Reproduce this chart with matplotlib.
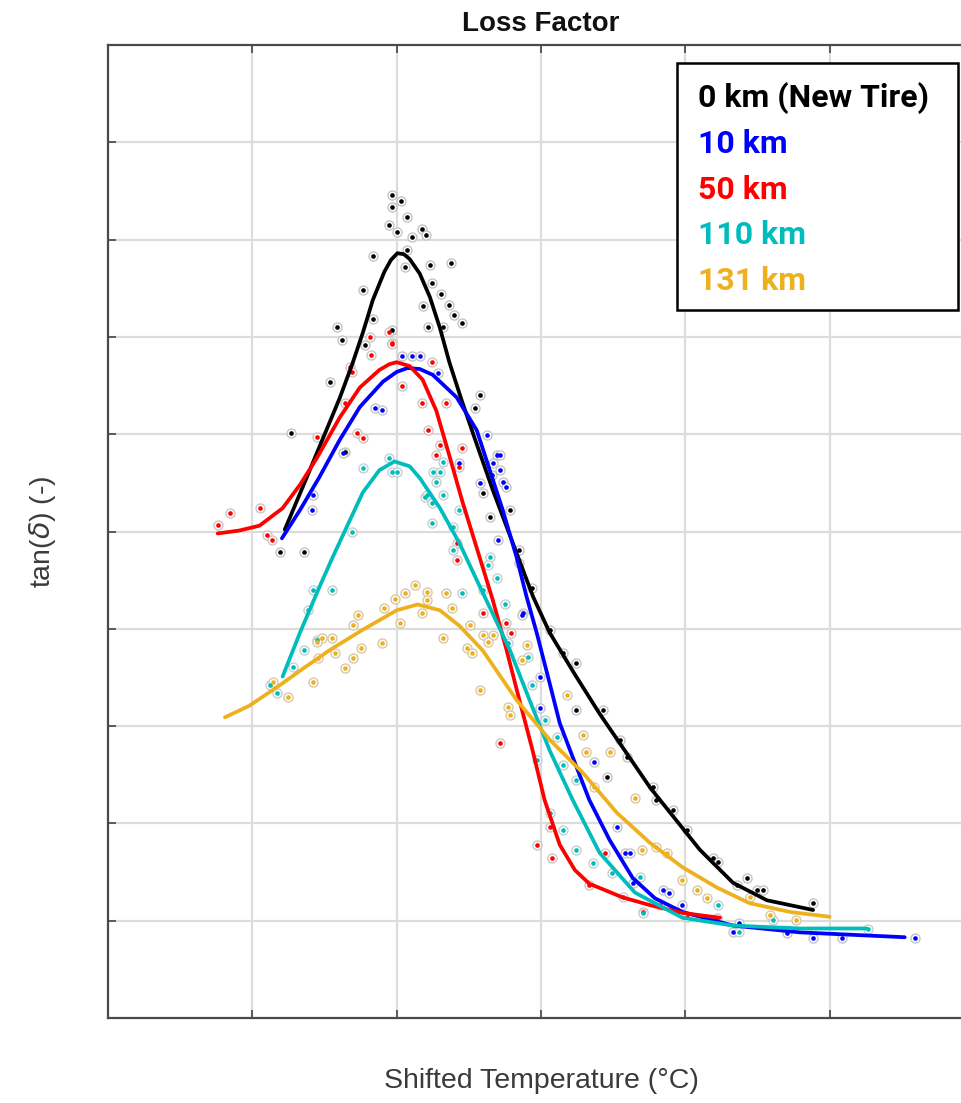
import matplotlib
matplotlib.use("Agg")
import matplotlib.pyplot as plt
from matplotlib.patches import Rectangle

# ---- fitted master curves (shifted temperature in degC, tan delta) ----
fit0_x = [-15.5, -13.0, -10.7, -7.9, -6.2, -4.7, -3.3, -1.7, -0.8, 0.1, 1.0, 1.8, 3.2, 4.6, 6.0,
          7.3, 9.0, 10.8, 13.3, 16.1, 18.9, 21.2, 24.7, 28.1, 35.1, 42.0, 46.6, 51.3, 57.7]
fit0_y = [0.502, 0.546, 0.587, 0.637, 0.671, 0.704, 0.738, 0.767, 0.779, 0.786, 0.785, 0.780,
          0.765, 0.741, 0.709, 0.674, 0.635, 0.596, 0.543, 0.488, 0.433, 0.396, 0.353, 0.313,
          0.237, 0.173, 0.139, 0.121, 0.111]

fit10_x = [-15.9, -13.4, -10.7, -7.9, -5.1, -1.9, 0.0, 1.5, 3.2, 5.0, 8.3, 11.1, 12.9, 14.7,
           16.6, 18.0, 19.4, 21.2, 22.6, 24.4, 26.7, 29.5, 32.7, 35.8, 39.6, 46.6, 55.9, 70.4]
fit10_y = [0.493, 0.522, 0.556, 0.594, 0.628, 0.654, 0.664, 0.668, 0.667, 0.661, 0.638, 0.604,
           0.563, 0.522, 0.474, 0.433, 0.396, 0.344, 0.303, 0.268, 0.224, 0.183, 0.144, 0.123,
           0.109, 0.095, 0.088, 0.083]

fit50_x = [-24.8, -21.8, -19.0, -15.8, -13.4, -11.1, -7.9, -5.1, -2.4, -1.0, 0.0, 1.8, 3.6, 5.5,
           7.3, 9.1, 11.1, 13.3, 15.2, 17.0, 18.8, 20.5, 22.6, 24.7, 26.7, 31.3, 35.1, 39.6, 44.8]
fit50_y = [0.498, 0.501, 0.506, 0.524, 0.548, 0.575, 0.617, 0.648, 0.666, 0.672, 0.674, 0.670,
           0.656, 0.624, 0.578, 0.531, 0.483, 0.430, 0.379, 0.327, 0.276, 0.224, 0.178, 0.152,
           0.138, 0.124, 0.116, 0.108, 0.103]

fit110_x = [-15.8, -13.4, -10.7, -8.9, -6.9, -4.7, -2.4, -0.3, 1.8, 3.2, 6.0, 8.7, 11.1, 12.9,
            15.7, 18.4, 21.2, 24.4, 28.1, 33.0, 39.6, 46.6, 55.9, 65.1]
fit110_y = [0.351, 0.396, 0.443, 0.473, 0.505, 0.540, 0.563, 0.572, 0.567, 0.555, 0.524, 0.488,
            0.450, 0.422, 0.378, 0.327, 0.275, 0.224, 0.170, 0.129, 0.103, 0.095, 0.092, 0.092]

fit131_x = [-23.8, -20.4, -16.2, -12.8, -9.3, -4.7, 0.0, 2.9, 6.0, 8.7, 11.9, 14.3, 16.6, 21.2,
            25.8, 30.5, 35.1, 39.6, 44.4, 48.9, 54.5, 60.0]
fit131_y = [0.309, 0.321, 0.342, 0.360, 0.378, 0.399, 0.419, 0.425, 0.419, 0.403, 0.378, 0.352,
            0.327, 0.286, 0.252, 0.211, 0.180, 0.155, 0.134, 0.118, 0.109, 0.104]

# ---- measured points ----
meas0_x = [-0.7, -0.6, 0.6, 1.4, -1.0, 0.1, 2.1, 3.5, 4.0, -3.3, 1.5, 1.1, 4.6, 7.5, 4.9, -4.7,
           6.1, 3.6, 7.2, 8.0, 9.1, -3.3, -8.3, 4.3, -0.6, 6.4, -7.6, -4.4, 11.5, 10.8, -14.6,
           -9.3, -16.2, -12.8, -7.2, 11.9, 12.9, 15.7, 17.0, 18.7, 21.2, 23.0, 24.9, 24.9, 28.6,
           30.9, 31.9, 29.1, 35.5, 36.0, 38.3, 40.2, 43.8, 47.1, 48.5, 49.9, 50.7, 57.7, 44.5]
meas0_y = [0.846, 0.834, 0.840, 0.823, 0.815, 0.808, 0.803, 0.811, 0.805, 0.783, 0.789, 0.772,
           0.774, 0.776, 0.755, 0.748, 0.744, 0.732, 0.733, 0.722, 0.714, 0.718, 0.710, 0.710,
           0.707, 0.710, 0.697, 0.692, 0.640, 0.627, 0.601, 0.654, 0.479, 0.479, 0.582, 0.540,
           0.515, 0.522, 0.481, 0.442, 0.399, 0.375, 0.365, 0.317, 0.317, 0.286, 0.268, 0.248,
           0.237, 0.224, 0.214, 0.193, 0.164, 0.137, 0.144, 0.132, 0.132, 0.118, 0.160]

meas10_x = [0.7, 2.1, 3.2, 5.7, 8.7, 12.5, 13.9, 13.3, 14.3, 14.7, 11.5, 15.2, 14.0, 17.0, 17.5,
            -11.6, -11.8, -3.0, -2.1, -7.5, 17.3, 19.8, 19.8, 27.4, 30.5, 31.6, 32.7, 36.9, 37.8,
            39.6, 46.6, 47.5, 54.1, 57.7, 61.7, 71.8, 32.3, 14.3, 13.2]
meas10_y = [0.680, 0.680, 0.680, 0.663, 0.570, 0.599, 0.579, 0.570, 0.563, 0.551, 0.550, 0.546,
            0.491, 0.468, 0.416, 0.537, 0.522, 0.627, 0.625, 0.581, 0.414, 0.350, 0.319, 0.263,
            0.196, 0.170, 0.139, 0.132, 0.128, 0.116, 0.088, 0.098, 0.087, 0.082, 0.082, 0.082,
            0.170, 0.579, 0.558]

meas50_x = [-24.8, -23.1, -19.0, -17.9, -17.3, -11.1, -7.2, -6.5, -3.7, -3.5, -0.7, -5.5, -4.7,
            -1.0, -0.6, -6.2, 0.7, 3.5, 4.9, 4.3, 6.0, 5.5, 9.1, 8.7, 8.3, 8.3, 6.9, 11.9, 15.2,
            15.9, 14.3, 21.2, 21.5, 19.5, 26.7, 28.8, 31.3, 34.1, 36.5, 40.2, 44.4]
meas50_y = [0.507, 0.519, 0.524, 0.496, 0.491, 0.597, 0.632, 0.669, 0.700, 0.681, 0.694, 0.601,
            0.596, 0.705, 0.693, 0.664, 0.650, 0.632, 0.674, 0.604, 0.589, 0.579, 0.586, 0.566,
            0.488, 0.471, 0.632, 0.416, 0.406, 0.396, 0.283, 0.196, 0.164, 0.178, 0.137, 0.170,
            0.124, 0.109, 0.116, 0.104, 0.103]

meas110_x = [-17.6, -16.6, -14.4, -12.8, -11.1, -11.6, -12.3, -8.9, -6.2, -4.7, -1.0, -0.6, 0.1,
             5.0, 6.0, 5.5, 3.9, 4.9, 6.4, 4.9, 6.4, 7.8, 9.0, 4.2, 8.7, 7.8, 12.9, 12.6, 13.9,
             11.9, 15.0, 15.4, 18.2, 18.7, 20.5, 19.4, 22.2, 23.0, 24.9, 21.2, 23.0, 24.9, 27.2,
             29.9, 33.7, 34.1, 44.5, 47.5, 52.1, 65.3]
meas110_y = [0.342, 0.334, 0.361, 0.378, 0.388, 0.440, 0.419, 0.440, 0.499, 0.565, 0.576, 0.561,
             0.561, 0.561, 0.561, 0.551, 0.535, 0.529, 0.537, 0.509, 0.571, 0.505, 0.437, 0.537,
             0.522, 0.481, 0.474, 0.466, 0.452, 0.440, 0.426, 0.385, 0.371, 0.342, 0.306, 0.265,
             0.289, 0.260, 0.245, 0.211, 0.193, 0.173, 0.159, 0.149, 0.145, 0.108, 0.116, 0.088,
             0.101, 0.091]

meas131_x = [2.5, 1.1, 4.2, 4.2, 6.9, -0.3, -1.7, 0.4, 3.5, 7.6, -5.4, -6.1, -4.9, -2.1, -9.0,
             -10.3, -11.1, -8.6, -10.9, -6.1, -7.2, -11.6, -15.1, -17.2, 6.4, 9.7, 10.4, 10.1,
             11.9, 13.3, 12.6, 11.5, 15.4, 15.7, 17.3, 18.0, 23.6, 25.8, 26.3, 29.5, 27.4, 33.0,
             36.0, 37.4, 34.0, 39.6, 41.6, 43.0, 48.9, 51.7, 55.4]
meas131_y = [0.445, 0.437, 0.438, 0.430, 0.437, 0.431, 0.421, 0.406, 0.416, 0.421, 0.414, 0.404,
             0.380, 0.385, 0.391, 0.391, 0.386, 0.375, 0.370, 0.370, 0.360, 0.345, 0.330, 0.345,
             0.391, 0.380, 0.375, 0.404, 0.394, 0.394, 0.386, 0.337, 0.320, 0.311, 0.368, 0.383,
             0.332, 0.291, 0.273, 0.273, 0.237, 0.226, 0.176, 0.170, 0.173, 0.142, 0.132, 0.123,
             0.124, 0.106, 0.101]

labels = ["0 km (New Tire)", "10 km", "50 km", "110 km", "131 km"]
colors = ["#000000", "#0000ff", "#ff0000", "#00bcbc", "#edb120"]
ring_colors = ["#c4c4c4", "#c4c4c8", "#d0c4c4", "#c4d0d0", "#d6c9a4"]

x_ticks = [-20, 0, 20, 40, 60]
y_ticks = [0.1, 0.2, 0.3, 0.4, 0.5, 0.6, 0.7, 0.8, 0.9]

fits = [(fit0_x, fit0_y), (fit10_x, fit10_y), (fit50_x, fit50_y),
        (fit110_x, fit110_y), (fit131_x, fit131_y)]
meas = [(meas0_x, meas0_y), (meas10_x, meas10_y), (meas50_x, meas50_y),
        (meas110_x, meas110_y), (meas131_x, meas131_y)]

W, H = 961, 1103
fig = plt.figure(figsize=(W / 100, H / 100), dpi=100)
fig.patch.set_facecolor("white")

# axes box in pixels: left 108, top 45, bottom 1018; right edge runs past the canvas
ax = fig.add_axes([108 / W, (H - 1018) / H, 866 / W, 973 / H])
ax.set_xlim(-40, 80)
ax.set_ylim(0, 1.0)
ax.set_xticks(x_ticks)
ax.set_yticks(y_ticks)
ax.set_xticklabels([])
ax.set_yticklabels([])
ax.grid(True, color="#dcdcdc", linewidth=1.6, zorder=0)
ax.set_axisbelow(True)
ax.tick_params(direction="in", length=6, width=1.2, color="#444444",
               top=True, right=True)
for side, sp in ax.spines.items():
    sp.set_color("#4a4a4a")
    sp.set_linewidth(1.6)

# measured points: small coloured dot inside a pale ring
for (mx, my), c, rc in zip(meas, colors, ring_colors):
    ax.scatter(mx, my, s=42, facecolors="white", edgecolors=rc, linewidths=1.0, zorder=2)
    ax.scatter(mx, my, s=11, color=c, linewidths=0, zorder=3)

# fitted curves
draw_order = [4, 0, 1, 2, 3]
for i in draw_order:
    fx, fy = fits[i]
    ax.plot(fx, fy, color=colors[i], linewidth=2.7, solid_capstyle="round",
            solid_joinstyle="round", zorder=4 + i)

ax.set_title("Loss Factor", fontsize=20, fontweight="bold",
             family="Liberation Sans", color="#111111", pad=10)
ax.set_xlabel("Shifted Temperature (\u00b0C)", fontsize=20.5,
              family="Liberation Sans", color="#3a3a3a")
ax.xaxis.set_label_coords(0.5, -0.051)
ax.set_ylabel("tan($\\delta$) (-)", fontsize=20.5,
              family="Liberation Sans", color="#3a3a3a")
ax.yaxis.set_label_coords(-0.058, 0.5)

# legend box with coloured series names
box = Rectangle((677 / W, 1 - 310 / H), 281 / W, 247 / H, transform=fig.transFigure,
                facecolor="white", edgecolor="black", linewidth=1.8, zorder=20)
fig.patches.append(box)
baselines = [107, 153, 199, 244, 290]
for lab, c, b in zip(labels, colors, baselines):
    fig.text(698 / W, 1 - b / H, lab, color=c, fontsize=23, fontweight="bold",
             family="Roboto", ha="left", va="baseline", zorder=21)

fig.savefig("out.png", dpi=100, facecolor="white")
